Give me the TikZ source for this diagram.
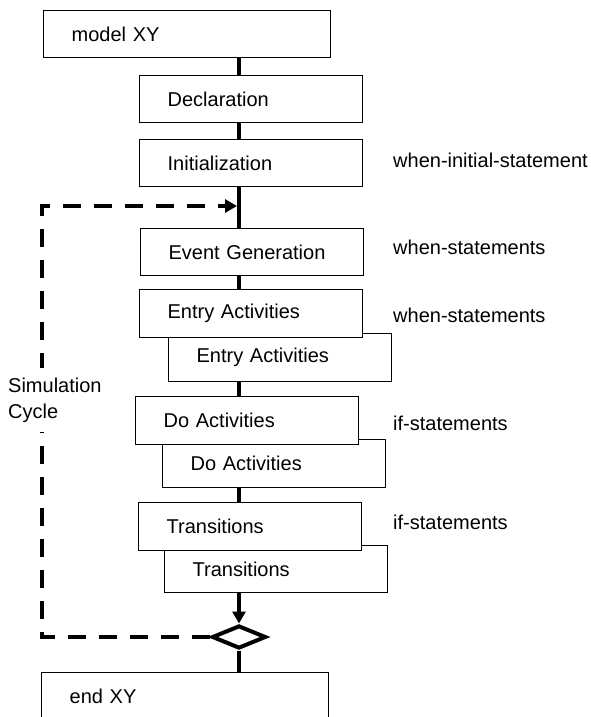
\documentclass[tikz,border=0pt]{standalone}
\usepackage{fontspec}
\setmainfont{Liberation Sans}
\usetikzlibrary{arrows.meta,shapes.geometric}
\begin{document}
\begin{tikzpicture}[x=1pt,y=-1pt,font=\fontsize{20}{26}\selectfont,
box/.style={draw,line width=1.3pt,fill=white,anchor=north west,text width=167pt,inner xsep=28pt,inner ysep=0pt,minimum height=47pt,align=left},
wide/.style={box,text width=231pt},
spine/.style={line width=4pt},
loopline/.style={line width=4.5pt,dash pattern=on 18pt off 13pt},
note/.style={anchor=west,inner sep=0pt}]
\useasboundingbox(0,0)rectangle(590,717);
\clip(0,0)rectangle(590,717);
\coordinate(axis)at(239,0);
\node[wide](model)at(43,10){model XY};
\node[box](decl)at(139,75){Declaration};
\node[box](init)at(139,139){Initialization};
\node[box](event)at(140,228){Event Generation};
\node[box,minimum height=48pt](entryb)at(168,333){Entry Activities};
\node[box,minimum height=48pt](entry)at(139,289){Entry Activities};
\node[box,minimum height=48pt](dob)at(162,439){Do Activities};
\node[box,minimum height=48pt](do)at(135,396){Do Activities};
\node[box](transb)at(164,545){Transitions};
\node[box,minimum height=48pt](trans)at(138,502){Transitions};
\node[diamond,draw,line width=4pt,minimum width=54pt,minimum height=23pt,inner sep=0pt](dia)at(239,637){};
\node[wide](endxy)at(41,672){end XY};
\draw[spine](model.south-|axis)--(decl.north-|axis)
(decl.south-|axis)--(init.north-|axis)
(init.south-|axis)--(event.north-|axis)
(event.south-|axis)--(entry.north-|axis)
(entryb.south-|axis)--(do.north-|axis)
(dob.south-|axis)--(trans.north-|axis)
(dia.south)--(endxy.north-|axis);
\draw[spine,-{Triangle[length=12pt,width=13pt]}](transb.south-|axis)--(dia.north);
\coordinate(back)at(42,206);
\coordinate(loop)at(237,206);
\draw[loopline,-{Triangle[length=12pt,width=13pt]}](dia.west)-|(back)--(loop);
\node[fill=white,anchor=west,align=left,inner xsep=0pt,inner ysep=10pt](sim)at(8,400){Simulation\\Cycle};
\node[note](n1)at(393,160){when-initial-statement};
\node[note](n2)at(393,247){when-statements};
\node[note](n3)at(393,315){when-statements};
\node[note](n4)at(393,423){if-statements};
\node[note](n5)at(393,522){if-statements};
\end{tikzpicture}
\end{document}
